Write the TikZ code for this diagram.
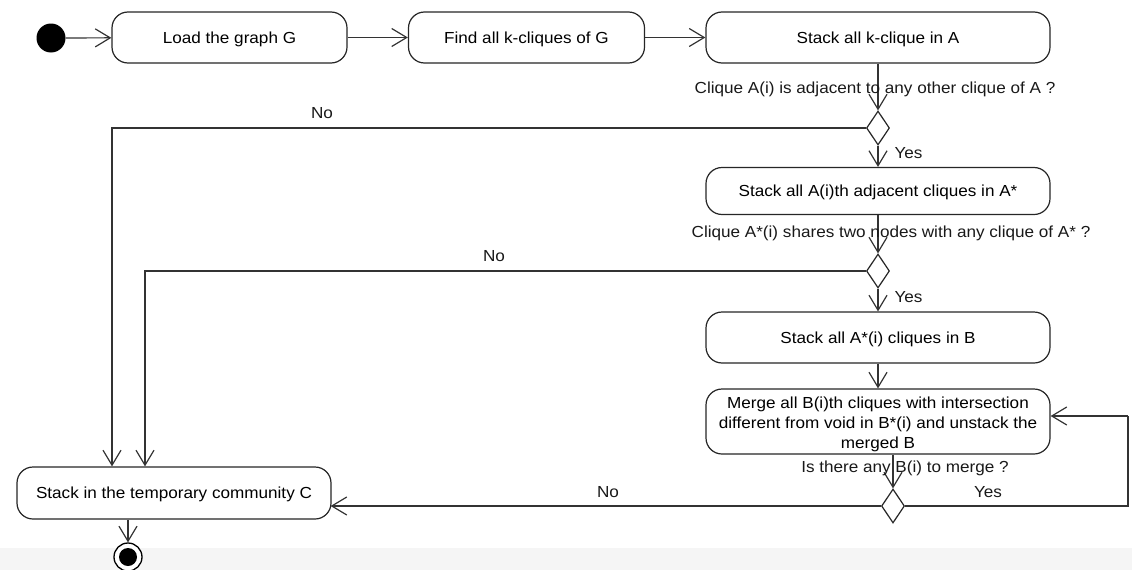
\documentclass[tikz,border=0pt]{standalone}
\usepackage{fontspec}
\setmainfont{Liberation Sans}[FakeStretch=1.07]
\usetikzlibrary{arrows.meta,shapes.geometric,calc}
\newcommand{\fs}{\fontsize{16}{20}\selectfont}
\begin{document}
\begin{tikzpicture}[x=1pt,y=-1pt,
  act/.style={draw=black!85, line width=1.2pt, rounded corners=16pt, fill=white,
              font=\fs, align=center, inner sep=0pt},
  one/.style={text height=11.5pt, text depth=0pt},
  dec/.style={draw=black!85, line width=1.2pt, diamond, fill=white, inner sep=0pt,
              minimum width=23pt, minimum height=34pt},
  flow/.style={draw=black!80, line width=1.2pt,
               -{Straight Barb[length=15pt,width=18pt,line width=1.2pt]}},
  plain/.style={draw=black!80, line width=1.2pt},
  lbl/.style={font=\fs, inner sep=0pt, text=black!90, text height=11.5pt, text depth=0pt}]
\useasboundingbox (0,0) rectangle (1132,570);
\fill[black!4] (0,548) rectangle (1132,570);

% start / end
\node[circle, fill=black, minimum size=29pt, inner sep=0pt] (start) at (51,38) {};
\node[circle, draw=black, line width=1.3pt, fill=white, minimum size=28pt, inner sep=0pt] (end) at (128,557) {};
\node[circle, fill=black, minimum size=18pt, inner sep=0pt] (endcore) at (end.center) {};

% activities
\node[act, one, minimum width=235pt, minimum height=51pt] (b1) at (229.5,37.5) {Load the graph G};
\node[act, one, minimum width=236pt, minimum height=51pt] (b2) at (526.5,37.5) {Find all k-cliques of G};
\node[act, one, minimum width=344pt, minimum height=51pt] (b3) at (878,37.5) {Stack all k-clique in A};
\node[act, one, minimum width=344pt, minimum height=47pt] (b4) at (878,191) {Stack all A(i)th adjacent cliques in A*};
\node[act, one, minimum width=344pt, minimum height=51pt] (b5) at (878,337.5) {Stack all A*(i) cliques in B};
\node[act, minimum width=344pt, minimum height=65pt] (b6) at (878,421.5)
  {\raisebox{-3pt}[\height][\depth]{\begin{tabular}{@{}c@{}}Merge all B(i)th cliques with intersection\\different from void in B*(i) and unstack the\\merged B\end{tabular}}};
\node[act, one, minimum width=314pt, minimum height=52pt] (bc) at (174,493) {Stack in the temporary community C};

% decisions
\node[dec] (d1) at (878,128) {};
\node[dec] (d2) at (878,271) {};
\node[dec] (d3) at (893,506) {};

% helper coordinates
\coordinate (n1) at (112,0);
\coordinate (n2) at (145,0);
\coordinate (n3) at (128,0);
\coordinate (loop) at (1128,416);

% connectors
\draw[flow] (start) -- (b1);
\draw[flow] (b1) -- (b2);
\draw[flow] (b2) -- (b3);
\draw[flow] (b3) -- (d1.north);
\draw[flow] (d1.south) -- (b4);
\draw[flow] (b4) -- (d2.north);
\draw[flow] (d2.south) -- (b5);
\draw[flow] (b5) -- (b6);
\draw[flow] (d3 |- b6.south) -- (d3.north);
\draw[flow] (d1.west) -| (n1 |- bc.north);
\draw[flow] (d2.west) -| (n2 |- bc.north);
\draw[flow] (d3.west) -- ($(d3.west -| bc.east)+(-1,0)$);
\draw[plain] (d3.east) -| (loop);
\draw[flow] (loop) -- (loop -| b6.east);
\draw[flow] (n3 |- bc.south) -- (end.north);

% labels
\node[lbl] (q1) at (875,88) {Clique A(i) is adjacent to any other clique of A ?};
\node[lbl] (y1) at (908.5,153) {Yes};
\node[lbl] (no1) at (322,113) {No};
\node[lbl] (q2) at (891,232) {Clique A*(i) shares two nodes with any clique of A* ?};
\node[lbl] (y2) at (908.5,297) {Yes};
\node[lbl] (no2) at (494,256) {No};
\node[lbl] (q3) at (905,467) {Is there any B(i) to merge ?};
\node[lbl] (y3) at (988,492) {Yes};
\node[lbl] (no3) at (608,492) {No};
\end{tikzpicture}
\end{document}
